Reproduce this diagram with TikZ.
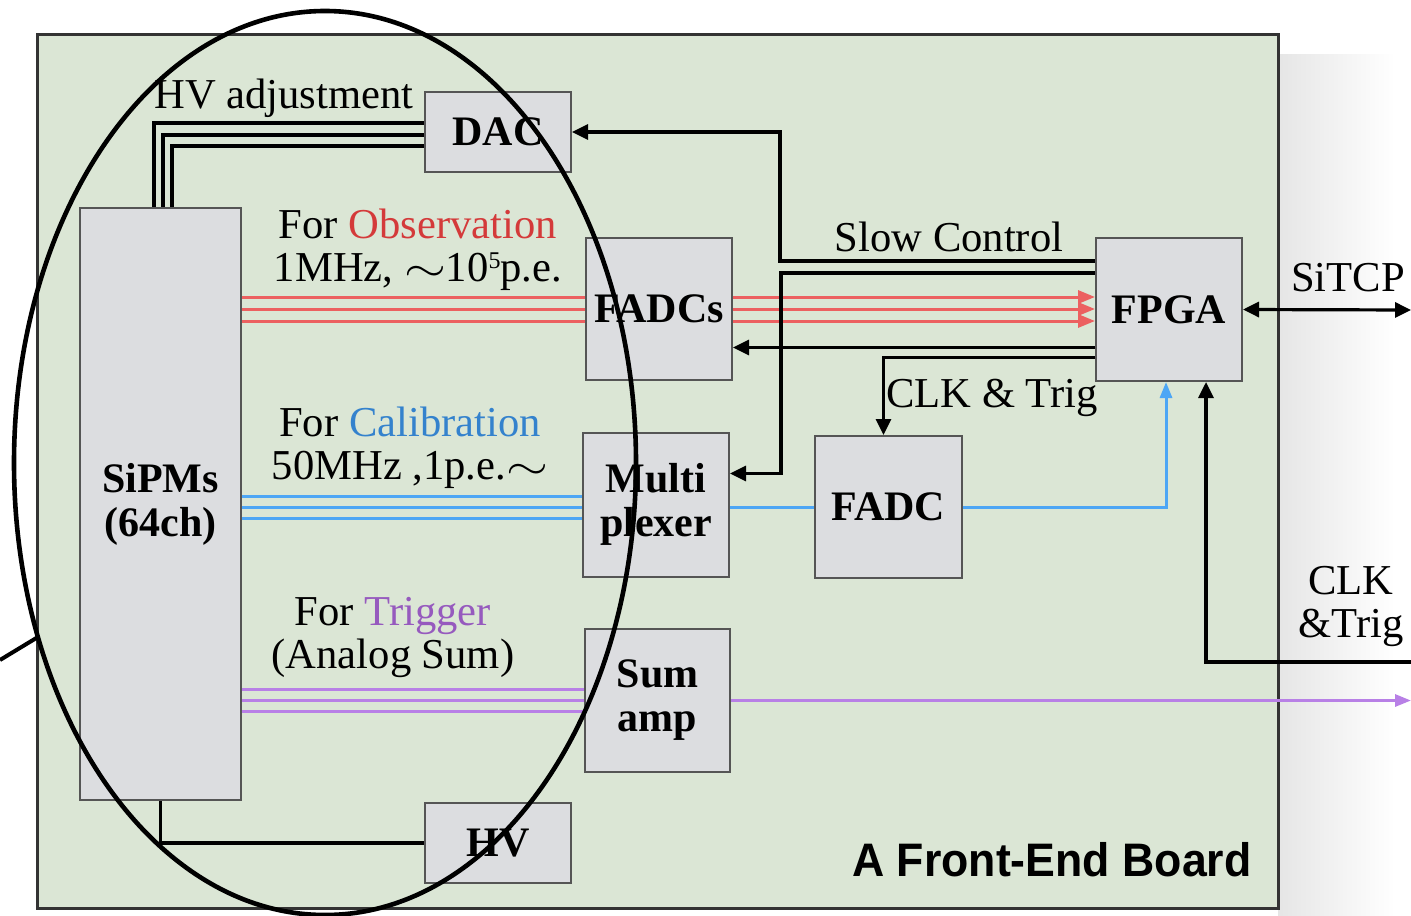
\documentclass[tikz,border=0pt]{standalone}
\usepackage{fontspec}
\usepackage{graphicx}
\setmainfont{Liberation Serif}
\newfontfamily\boardfont[FakeStretch=0.95]{Liberation Sans}
\usetikzlibrary{calc,arrows.meta}
\definecolor{boardgreen}{RGB}{219,230,213}
\definecolor{boxgray}{RGB}{220,221,224}
\definecolor{boxline}{RGB}{85,85,85}
\definecolor{obsred}{RGB}{212,58,58}
\definecolor{linered}{RGB}{236,96,96}
\definecolor{calblue}{RGB}{52,130,205}
\definecolor{lineblue}{RGB}{77,166,245}
\definecolor{trigpurple}{RGB}{150,90,190}
\definecolor{linepurple}{RGB}{184,128,230}
\newcommand{\wavedash}{\smash{\scalebox{1.3}[1]{$\sim$}}}
\newcommand{\supfive}{\smash{\raisebox{0.62ex}{\fontsize{12}{12}\selectfont 5}}}
\begin{document}
\begin{tikzpicture}[x=0.5pt,y=-0.5pt,
  box/.style={draw=boxline, line width=1pt, fill=boxgray, inner sep=0pt, align=center,
    font=\fontsize{21}{22}\selectfont\bfseries},
  lbl/.style={font=\fontsize{21.3}{21.5}\selectfont, anchor=base, inner sep=0pt, align=center},
  wire/.style={line width=1.6pt, black},
  arr/.style={wire, -{Triangle[length=8pt,width=7.5pt]}},
  redw/.style={line width=1.5pt, linered},
  redarr/.style={redw, -{Triangle[length=8.5pt,width=6.5pt]}},
  bluew/.style={line width=1.5pt, lineblue},
  bluearr/.style={bluew, -{Triangle[length=8pt,width=6pt]}},
  purw/.style={line width=1.5pt, linepurple},
  purarr/.style={purw, -{Triangle[length=8pt,width=6pt]}},
]
\useasboundingbox (0,0) rectangle (1411,915);
% shadow and board
\shade[left color=black!10, right color=white] (1278,55) rectangle (1395,915);
\draw[line width=1.5pt, draw=black!80, fill=boardgreen] (37,35) rectangle (1278,908);

% boxes
\node[box, minimum width=80.5pt, minimum height=296pt] (sipm) at (160.5,504) {SiPMs\\(64ch)};
\node[box, minimum width=73pt, minimum height=40pt] (dac) at (498,132) {DAC};
\node[box, minimum width=73pt, minimum height=71pt] (fadcs) at (659,309) {FADCs};
\node[box, minimum width=73pt, minimum height=72pt] (multi) at (656,504.5) {Multi\\plexer};
\node[box, minimum width=73.5pt, minimum height=71pt] (fadc) at (888.5,507) {FADC};
\node[box, minimum width=72.5pt, minimum height=71.5pt] (sumamp) at (657.5,700.5) {Sum\\amp};
\node[box, minimum width=73pt, minimum height=40pt] (hv) at (498,843) {HV};
\node[box, minimum width=73pt, minimum height=71.5pt] (fpga) at (1169,309.5) {FPGA};

% outside coordinates
\coordinate (sitcp) at (1411,310);
\coordinate (clkin) at (1411,662);
\coordinate (trigout) at (1411,700.5);

% HV adjustment bundle
\draw[wire] ($(dac.west)+(0,-9)$) -| ($(sipm.north)+(-6.5,0)$);
\draw[wire] ($(dac.west)+(0,3)$) -| ($(sipm.north)+(2.5,0)$);
\draw[wire] ($(dac.west)+(0,14)$) -| ($(sipm.north)+(11.5,0)$);
% HV supply
\draw[wire] (hv.west) -| (sipm.south);

% observation (red)
\foreach \d in {-12,0,12}{
  \draw[redw] ($(sipm.east |- fadcs.west)+(0,\d)$) -- ($(fadcs.west)+(0,\d)$);
  \draw[redarr] ($(fadcs.east)+(0,\d)$) -- ($(fpga.west |- fadcs.east)+(0,\d)$);
}
% calibration (blue)
\foreach \d in {-8,3,14}{
  \draw[bluew] ($(sipm.east |- multi.west)+(0,\d)$) -- ($(multi.west)+(0,\d)$);
}
\draw[bluew] (fadc.west -| multi.east) -- (fadc.west);
\draw[bluearr] (fadc.east) -| ($(fpga.south)+(-3,0)$);
% trigger (purple)
\foreach \d in {-11,0,11}{
  \draw[purw] ($(sipm.east |- sumamp.west)+(0,\d)$) -- ($(sumamp.west)+(0,\d)$);
}
\draw[purarr] (sumamp.east) -- (trigout);

% slow control
\draw[arr] ($(fpga.north west)+(0,24)$) -| ($(dac.east)+(208,0)$) -- (dac.east);
\draw[arr] ($(fpga.north west)+(0,36)$) -| ($(multi.east)+(51,-31)$) -- ($(multi.east)+(0,-31)$);
\coordinate (s3) at ($(fpga.west)+(0,38)$);
\draw[arr] (s3) -- (s3 -| fadcs.east);
\draw[arr] ($(fpga.west)+(0,48)$) -| ($(fadc.north)+(-5,0)$);
% external
\draw[wire, {Triangle[length=8pt,width=7.5pt]}-{Triangle[length=8pt,width=7.5pt]}] (fpga.east) -- (sitcp);
\draw[arr] (clkin) -| ($(fpga.south)+(37,0)$);

% labels
\node[lbl] (lhvadj) at (284,108) {HV adjustment};
\node[lbl] (lobs) at (418,281) {For \textcolor{obsred}{Observation}\\1MHz, \wavedash{}10\supfive{}p.e.};
\node[lbl] (lcal) at (410,479) {For \textcolor{calblue}{Calibration}\\50MHz ,1p.e.\wavedash};
\node[lbl] (ltrg) at (393,668) {For \textcolor{trigpurple}{Trigger}\\(Analog Sum)};
\node[lbl] (lslow) at (949,251) {Slow Control};
\node[lbl] (lclk) at (992,407) {CLK \& Trig};
\node[lbl] (lsitcp) at (1348,291) {SiTCP};
\node[lbl] (lclk2) at (1351,637) {CLK\\\&Trig};
\node[font=\boardfont\bfseries\fontsize{23.5}{26}\selectfont, anchor=base east, inner sep=0pt] (lboard) at (1252,876) {A Front-End Board};

% ellipse highlight
\coordinate (ecent) at (325,463);
\draw[line width=2.3pt] (ecent) ellipse [x radius=311, y radius=452];
\coordinate (eout) at (0,660);
\draw[line width=2pt] (eout) -- (38,637);
\end{tikzpicture}
\end{document}
